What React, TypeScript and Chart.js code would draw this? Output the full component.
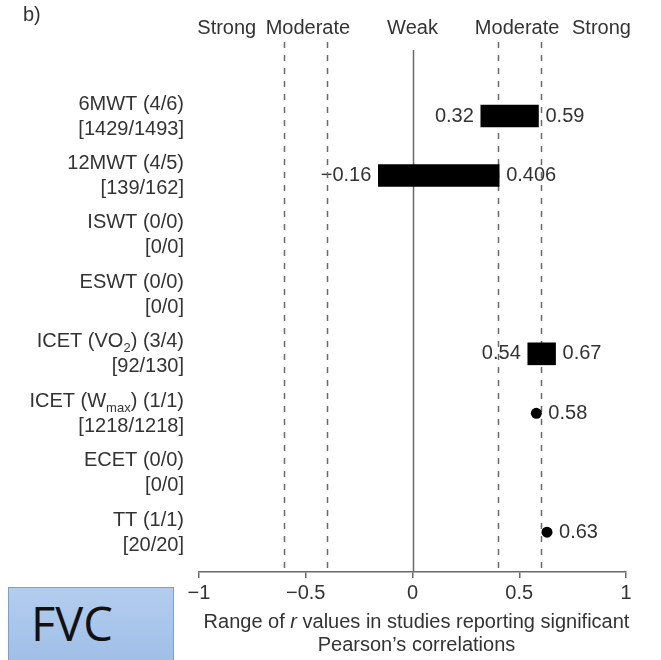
import React, { useEffect, useRef } from 'react';
import { Chart, registerables } from 'chart.js';

Chart.register(...registerables);

// ---------------- data ----------------
const measureNames = [
  '6MWT (4/6)',
  '12MWT (4/5)',
  'ISWT (0/0)',
  'ESWT (0/0)',
  'ICET (VO_2) (3/4)',
  'ICET (W_max) (1/1)',
  'ECET (0/0)',
  'TT (1/1)',
];
const sampleLabels = ['[1429/1493]', '[139/162]', '[0/0]', '[0/0]', '[92/130]', '[1218/1218]', '[0/0]', '[20/20]'];
const rangeLow: (number | null)[] = [0.32, -0.16, null, null, 0.54, null, null, null];
const rangeHigh: (number | null)[] = [0.59, 0.406, null, null, 0.67, null, null, null];
const singleR: (number | null)[] = [null, null, null, null, null, 0.58, null, 0.63];
const xTickValues = [-1, -0.5, 0, 0.5, 1];
const thresholdLines = [-0.6, -0.4, 0.4, 0.6];
const zeroLine = 0;
const strengthLabels = ['Strong', 'Moderate', 'Weak', 'Moderate', 'Strong'];
const strengthAnchors = [-0.87, -0.49, 0, 0.49, 0.885];
const titleLine1: [string, boolean][] = [['Range of ', false], ['r', true], [' values in studies reporting significant', false]];
const titleLine2: [string, boolean][] = [['Pearson\u2019s correlations', false]];
const panelLetter = 'b)';
const boxLabel = 'FVC';

const FONT = '"Liberation Sans", Arial, sans-serif';
const TEXT = '#333';

const fmt = (v: number) => String(v).replace('-', '\u2212');

function parseSub(s: string): [string, boolean][] {
  const out: [string, boolean][] = [];
  const re = /_([a-z0-9]+)/g;
  let last = 0;
  let m;
  while ((m = re.exec(s))) {
    if (m.index > last) out.push([s.slice(last, m.index), false]);
    out.push([m[1], true]);
    last = m.index + m[0].length;
  }
  if (last < s.length) out.push([s.slice(last), false]);
  return out;
}

function drawSubText(ctx: CanvasRenderingContext2D, text: string, xRight: number, y: number) {
  const segs = parseSub(text);
  const main = `20px ${FONT}`;
  const sub = `13px ${FONT}`;
  let total = 0;
  const widths = segs.map(([t, isSub]) => {
    ctx.font = isSub ? sub : main;
    const w = ctx.measureText(t).width;
    total += w;
    return w;
  });
  let x = xRight - total;
  ctx.textAlign = 'left';
  ctx.textBaseline = 'middle';
  segs.forEach(([t, isSub], i) => {
    ctx.font = isSub ? sub : main;
    ctx.fillText(t, x, isSub ? y + 7 : y);
    x += widths[i];
  });
}

function drawRich(ctx: CanvasRenderingContext2D, segs: [string, boolean][], xc: number, y: number) {
  let total = 0;
  const widths = segs.map(([t, it]) => {
    ctx.font = `${it ? 'italic ' : ''}20px ${FONT}`;
    const w = ctx.measureText(t).width;
    total += w;
    return w;
  });
  let x = xc - total / 2;
  ctx.textAlign = 'left';
  ctx.textBaseline = 'middle';
  segs.forEach(([t, it], i) => {
    ctx.font = `${it ? 'italic ' : ''}20px ${FONT}`;
    ctx.fillText(t, x, y);
    x += widths[i];
  });
}

const decorPlugin = {
  id: 'decor',
  beforeDatasetsDraw(chart: any) {
    const { ctx, chartArea } = chart;
    const xs = chart.scales.x;
    const ys = chart.scales.y;
    ctx.save();
    ctx.fillStyle = TEXT;
    ctx.font = `20px ${FONT}`;
    ctx.textBaseline = 'middle';
    // value labels
    rangeLow.forEach((lo, i) => {
      const hi = rangeHigh[i];
      if (lo == null || hi == null) return;
      const y = ys.getPixelForValue(i);
      ctx.textAlign = 'right';
      ctx.fillText(fmt(lo), xs.getPixelForValue(lo) - 7, y);
      ctx.textAlign = 'left';
      ctx.fillText(fmt(hi), xs.getPixelForValue(hi) + 7, y);
    });
    singleR.forEach((v, i) => {
      if (v == null) return;
      ctx.textAlign = 'left';
      ctx.fillText(fmt(v), xs.getPixelForValue(v) + 12, ys.getPixelForValue(i));
    });
    // reference lines
    ctx.strokeStyle = '#6a6a6a';
    ctx.lineWidth = 1.5;
    ctx.setLineDash([6, 7]);
    thresholdLines.forEach((v) => {
      const x = Math.round(xs.getPixelForValue(v)) + 0.5;
      ctx.beginPath();
      ctx.moveTo(x, chartArea.top);
      ctx.lineTo(x, chartArea.bottom);
      ctx.stroke();
    });
    ctx.setLineDash([]);
    const x0 = Math.round(xs.getPixelForValue(zeroLine)) + 0.5;
    ctx.beginPath();
    ctx.moveTo(x0, chartArea.top + 8);
    ctx.lineTo(x0, chartArea.bottom);
    ctx.stroke();
    ctx.restore();
  },
  afterDraw(chart: any) {
    const { ctx, chartArea } = chart;
    const xs = chart.scales.x;
    const ys = chart.scales.y;
    ctx.save();
    ctx.fillStyle = TEXT;
    // category labels
    measureNames.forEach((name, i) => {
      const y = ys.getPixelForValue(i);
      drawSubText(ctx, name, 184, y - 12);
      drawSubText(ctx, sampleLabels[i], 184, y + 13);
    });
    // strength labels
    ctx.font = `20px ${FONT}`;
    ctx.textAlign = 'center';
    ctx.textBaseline = 'middle';
    strengthLabels.forEach((t, i) => {
      ctx.fillText(t, xs.getPixelForValue(strengthAnchors[i]), 28);
    });
    // panel letter
    ctx.textAlign = 'left';
    ctx.fillText(panelLetter, 23, 15);
    // axis title
    const xc = (chartArea.left + chartArea.right) / 2 + 4;
    drawRich(ctx, titleLine1, xc, 622);
    drawRich(ctx, titleLine2, xc, 645);
    ctx.restore();
  },
};

export default function App() {
  const canvasRef = useRef<HTMLCanvasElement | null>(null);

  useEffect(() => {
    document.body.style.margin = '0';
    const canvas = canvasRef.current;
    if (!canvas) return;
    const barData = rangeLow
      .map((lo, i) => (lo == null || rangeHigh[i] == null ? null : { x: [lo, rangeHigh[i]], y: i }))
      .filter(Boolean);
    const pointData = singleR.map((v, i) => (v == null ? null : { x: v, y: i })).filter(Boolean);

    const chart = new Chart(canvas, {
      type: 'bar',
      data: {
        datasets: [
          {
            type: 'bar',
            data: barData as any,
            backgroundColor: '#000',
            borderWidth: 0,
            barThickness: 22,
            indexAxis: 'y',
          } as any,
          {
            type: 'scatter',
            data: pointData as any,
            backgroundColor: '#000',
            borderColor: '#000',
            pointRadius: 5.5,
            pointBorderWidth: 0,
            showLine: false,
          } as any,
        ],
      },
      options: {
        indexAxis: 'y',
        responsive: false,
        animation: false,
        layout: { padding: { left: 199, right: 35, top: 42, bottom: 0 } },
        plugins: { legend: { display: false }, tooltip: { enabled: false } },
        scales: {
          x: {
            type: 'linear',
            min: -1,
            max: 1,
            offset: false,
            afterBuildTicks: (s: any) => {
              s.ticks = xTickValues.map((v) => ({ value: v }));
            },
            afterFit: (s: any) => {
              s.height = 88;
            },
            grid: { drawOnChartArea: false, drawTicks: true, tickLength: 6, color: '#6a6a6a', lineWidth: 1.5, offset: false },
            border: { display: true, color: '#6a6a6a', width: 1.5 },
            ticks: {
              padding: 3,
              color: TEXT,
              font: { family: FONT, size: 20 },
              callback: (v: any) => fmt(Number(v)),
            },
          },
          y: {
            type: 'linear',
            min: -1.245,
            max: 7.67,
            reverse: true,
            offset: false,
            display: false,
            grid: { offset: false },
          },
        },
      } as any,
      plugins: [decorPlugin],
    });
    return () => chart.destroy();
  }, []);

  return (
    <div style={{ position: 'relative', width: 661, height: 660, overflow: 'hidden', background: '#fff' }}>
      <canvas ref={canvasRef} width={661} height={660} style={{ display: 'block' }} />
      <div
        style={{
          position: 'absolute',
          left: 8,
          top: 587,
          width: 166,
          height: 90,
          background: 'linear-gradient(#b3cdee, #9cbce6)',
          border: '1px solid #7c9fd2',
          fontFamily: '"Open Sans", "Noto Sans", sans-serif',
          fontSize: 47,
          color: '#111',
          boxSizing: 'border-box',
        }}
      >
        <span style={{ position: 'absolute', left: 22, top: 3, lineHeight: '64px' }}>{boxLabel}</span>
      </div>
    </div>
  );
}
